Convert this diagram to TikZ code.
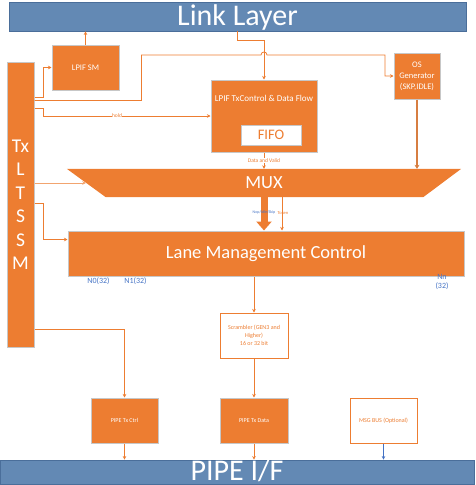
\documentclass[tikz,border=0pt]{standalone}
\usepackage{fontspec}
\setmainfont{Carlito}
\usepackage{xcolor}
\usepackage{tikz}
\usetikzlibrary{arrows.meta,positioning}
\definecolor{lorange}{HTML}{ED7D31}
\definecolor{layerblue}{HTML}{6389B4}
\definecolor{layeredge}{HTML}{4A6E9A}
\definecolor{laneblue}{HTML}{4472C4}
\newcommand{\fsz}[2]{\fontsize{#1}{#2}\selectfont}

\begin{document}
\begin{tikzpicture}[x=1pt, y=-1pt,
  blk/.style={draw=black!22, line width=1pt, fill=lorange, text=white, align=center, inner sep=1pt},
  wbox/.style={draw=lorange, line width=1pt, fill=white, text=lorange, align=center, inner sep=1pt},
  layer/.style={draw=layeredge, line width=0.8pt, fill=layerblue},
  big/.style={text=white, font=\fsz{30}{30}, inner sep=0pt},
  arr/.style={-{Stealth[length=3.5pt,width=3.5pt]}, draw=lorange, line width=0.8pt},
  tag/.style={font=\fsz{5.5}{5.5}, text=lorange, inner sep=0.5pt, fill=white},
  lane/.style={font=\fsz{8}{9.5}, text=laneblue, align=center, inner sep=0pt}]
\useasboundingbox (0,0) rectangle (476,485);

% layers
\node[layer, minimum width=457pt, minimum height=29pt] (link) at (237.5,16.5) {};
\node[big, anchor=base] (linktxt) at ([yshift=6pt]link.south) {Link Layer};
\node[layer, minimum width=474pt, minimum height=24pt] (pipe) at (237,472) {};
\node[big, anchor=base] (pipetxt) at ([yshift=3.5pt]pipe.south) {PIPE I/F};

% blocks
\node[blk, minimum width=67pt, minimum height=45pt, font=\fsz{8.5}{10}] (lpifsm) at (85.5,67.5) {LPIF SM};
\node[blk, minimum width=27pt, minimum height=285pt, font=\fsz{19.5}{23.5}] (ltssm) at (20.5,204.5) {Tx\\L\\T\\S\\S\\M};
\node[blk, minimum width=106pt, minimum height=72pt] (txctl) at (264,116) {};
\node[text=white, font=\fsz{9}{10}, below=12pt of txctl.north] (txctlname) {LPIF TxControl \& Data Flow};
\node[draw=black!22, line width=1pt, fill=white, text=lorange, minimum width=60pt, minimum height=20pt, inner sep=0pt, font=\fsz{14.5}{15}] (fifo) at (271,135) {FIFO};
\node[blk, minimum width=46pt, minimum height=46pt, font=\fsz{8.5}{11}] (osgen) at (417,76) {OS\\Generator\\(SKP,IDLE)};

% mux
\node[minimum width=394pt, minimum height=28pt, inner sep=0pt] (mux) at (264,183) {};
\fill[lorange] (mux.north west) -- (mux.north east) -- ([xshift=-38pt]mux.south east) -- ([xshift=39pt]mux.south west) -- cycle;
\node[text=white, font=\fsz{18.5}{20}] (muxtxt) at (mux) {MUX};

\node[blk, minimum width=396pt, minimum height=45pt, font=\fsz{18.5}{20}] (lmc) at (266,253.5) {Lane Management Control};
\node[lane] (n0) at (98.5,281) {N0(32)};
\node[lane] (n1) at (135.5,281) {N1(32)};
\node[lane] (nn) at (442,282) {Nn\\(32)};

\node[wbox, minimum width=68pt, minimum height=45pt, font=\fsz{6}{8}] (scr) at (254,335.5) {Scrambler (GEN3 and\\Higher)\\16 or 32 bit};
\node[blk, minimum width=67pt, minimum height=45pt, font=\fsz{6}{7}] (ptxctl) at (124.5,420.5) {PIPE Tx Ctrl};
\node[blk, minimum width=68pt, minimum height=45pt, font=\fsz{6}{7}] (ptxdata) at (254,420.5) {PIPE Tx Data};
\node[wbox, minimum width=67pt, minimum height=45pt, font=\fsz{6}{7}] (msg) at (383.5,420.5) {MSG BUS (Optional)};

% connectors
\draw[arr] (lpifsm.north) -- (lpifsm.north |- link.south);
\draw[arr] (link.south) -- ++(0,9) -| (txctl.north);
\draw[arr] ([yshift=-36pt]ltssm.north east) -- ++(9,0) |- (lpifsm.west);
\draw[arr] ([yshift=-39pt]ltssm.north east) -- ++(107,0) |- (261,55) .. controls (261,51) and (267,51) .. (267,55) -- (385,55) |- (osgen.west);
\draw[arr] ([yshift=-47pt]ltssm.north east) -- ++(9,0) |- node[tag, pos=0.72] {hold} (txctl.west);
\draw[arr, draw=lorange!70] (ltssm.east |- mux.west) -- ([xshift=19pt]mux.west);
\draw[arr] ([yshift=-142pt]ltssm.north east) -- ++(9,0) |- ([yshift=-9pt]lmc.north west);
\draw[arr] ([yshift=-268pt]ltssm.north east) -| (ptxctl.north);
\draw[arr] (txctl.south) -- node[tag, pos=0.47] {Data and Valid} (txctl.south |- mux.north);
\draw[-{Stealth[length=4pt,width=5pt]}, draw=lorange!80!gray, line width=1.8pt] (osgen.south) -- (osgen.south |- mux.north);
\draw[-{Triangle[length=9pt,width=15pt]}, draw=lorange, line width=7pt] (mux.south) -- node[pos=0.47, text=laneblue, font=\fsz{4}{4.5}] {Nop/Idle/Skip} (mux.south |- lmc.north);
\coordinate (tok) at ([xshift=18pt]mux.south);
\draw[arr] (tok) -- node[tag, fill=none, pos=0.47, xshift=1pt, font=\fsz{4.5}{5}] {Token} (tok |- lmc.north);
\draw[arr] (scr.north |- lmc.south) -- (scr.north);
\draw[arr] (scr.south) -- (ptxdata.north);
\draw[arr] (ptxctl.south) -- (ptxctl.south |- pipe.north);
\draw[arr] (ptxdata.south) -- (ptxdata.south |- pipe.north);
\draw[arr, draw=laneblue] (msg.south) -- (msg.south |- pipe.north);
\end{tikzpicture}
\end{document}
